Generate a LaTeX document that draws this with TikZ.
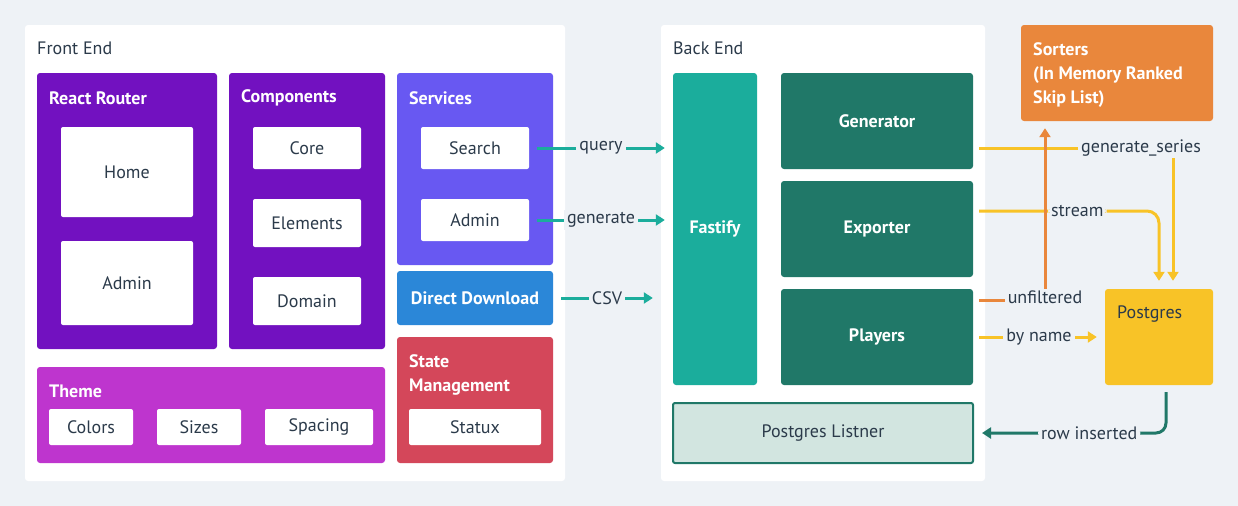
\documentclass[tikz,border=0pt]{standalone}
\usepackage{fontspec}
\setmainfont{PT Sans}
\usetikzlibrary{arrows.meta}

\definecolor{bgcol}{HTML}{EEF2F6}
\definecolor{ink}{HTML}{2B3A4A}
\definecolor{grape}{HTML}{7211C0}
\definecolor{violet}{HTML}{6858F2}
\definecolor{orchid}{HTML}{BE35CE}
\definecolor{sky}{HTML}{2B87D8}
\definecolor{rose}{HTML}{D4475A}
\definecolor{jade}{HTML}{1BAD9C}
\definecolor{forest}{HTML}{207868}
\definecolor{mint}{HTML}{D2E5E0}
\definecolor{pumpkin}{HTML}{E9873C}
\definecolor{amber}{HTML}{F8C327}

\tikzset{
  panel/.style={fill=white,rounded corners=3bp,inner sep=0pt},
  group/.style={rounded corners=3bp,inner sep=0pt,text=white,font=\fontsize{18bp}{24bp}\selectfont\bfseries},
  item/.style={fill=white,rounded corners=2bp,inner sep=0pt,text=ink},
  heading/.style={anchor=west,inner sep=0pt,text=ink},
  title/.style={anchor=west,inner sep=0pt,text=white,font=\fontsize{18bp}{24bp}\selectfont\bfseries},
  link/.style={line width=3bp,-{Triangle[length=9bp,width=11bp]}},
  tag/.style={fill=bgcol,text=ink,inner xsep=3bp,inner ysep=2bp}
}

\begin{document}
\begin{tikzpicture}[font=\fontsize{18bp}{24bp}\selectfont]
\fill [bgcol] (0bp,0bp) rectangle (1238bp,-506bp);

% panels
\node (FrontEnd) at (295bp,-253bp)[panel,minimum width=540bp,minimum height=456bp] {};
\node (BackEnd) at (823bp,-253bp)[panel,minimum width=324bp,minimum height=456bp] {};
\node (FrontEndTitle) at (37bp,-48bp)[heading] {Front End};
\node (BackEndTitle) at (673bp,-48bp)[heading] {Back End};

% front end
\node (Router) at (127bp,-211bp)[group,fill=grape,minimum width=180bp,minimum height=276bp] {};
\node (RouterTitle) at (49bp,-98bp)[title] {React Router};
\node (Home) at (127bp,-172bp)[item,minimum width=132bp,minimum height=90bp] {Home};
\node (AdminPage) at (127bp,-283bp)[item,minimum width=132bp,minimum height=84bp] {Admin};

\node (Components) at (307bp,-211bp)[group,fill=grape,minimum width=156bp,minimum height=276bp] {};
\node (ComponentsTitle) at (241bp,-98bp)[title] {Components};
\node (Core) at (307bp,-148bp)[item,minimum width=108bp,minimum height=42bp] {Core};
\node (Elements) at (307bp,-223bp)[item,minimum width=108bp,minimum height=48bp] {Elements};
\node (Domain) at (307bp,-301bp)[item,minimum width=108bp,minimum height=48bp] {Domain};

\node (Services) at (475bp,-169bp)[group,fill=violet,minimum width=156bp,minimum height=192bp] {};
\node (ServicesTitle) at (409bp,-98bp)[title] {Services};
\node (Search) at (475bp,-148bp)[item,minimum width=108bp,minimum height=42bp] {Search};
\node (AdminService) at (475bp,-220bp)[item,minimum width=108bp,minimum height=42bp] {Admin};

\node (Download) at (475bp,-298bp)[group,fill=sky,minimum width=156bp,minimum height=54bp] {Direct Download};

\node (State) at (475bp,-400bp)[group,fill=rose,minimum width=156bp,minimum height=126bp] {};
\node (StateTitle) at (409bp,-354bp)[title,anchor=north west,align=left] {State\\Management};
\node (Statux) at (475bp,-427bp)[item,minimum width=132bp,minimum height=36bp] {Statux};

\node (Theme) at (211bp,-415bp)[group,fill=orchid,minimum width=348bp,minimum height=96bp] {};
\node (ThemeTitle) at (49bp,-391bp)[title] {Theme};
\node (Colors) at (91bp,-427bp)[item,minimum width=84bp,minimum height=36bp] {Colors};
\node (Sizes) at (199bp,-427bp)[item,minimum width=84bp,minimum height=36bp] {Sizes};
\node (Spacing) at (319bp,-427bp)[item,minimum width=108bp,minimum height=36bp] {Spacing};

% back end
\node (Fastify) at (715bp,-229bp)[group,fill=jade,minimum width=84bp,minimum height=312bp] {Fastify};
\node (Generator) at (877bp,-121bp)[group,fill=forest,minimum width=192bp,minimum height=96bp] {Generator};
\node (Exporter) at (877bp,-229bp)[group,fill=forest,minimum width=192bp,minimum height=96bp] {Exporter};
\node (Players) at (877bp,-337bp)[group,fill=forest,minimum width=192bp,minimum height=96bp] {Players};
\node (Listner) at (823bp,-433bp)[item,fill=mint,draw=forest,line width=2bp,minimum width=300bp,minimum height=60bp] {Postgres Listner};

% outside
\node (Sorters) at (1117bp,-73bp)[group,fill=pumpkin,minimum width=192bp,minimum height=96bp] {};
\node (SortersTitle) at (1033bp,-42bp)[title,anchor=north west,align=left] {Sorters\\(In Memory Ranked\\Skip List)};
\node (Postgres) at (1159bp,-337bp)[group,fill=amber,minimum width=108bp,minimum height=96bp] {};
\node (PostgresTitle) at (1117bp,-314bp)[heading] {Postgres};

% connectors
\draw [link,jade,shorten <=8bp,shorten >=8bp] (Search) -- node[tag] {query} (Fastify.west |- Search);
\draw [link,jade,shorten <=8bp,shorten >=8bp] (AdminService) -- node[tag] {generate} (Fastify.west |- AdminService);
\draw [link,jade,shorten <=8bp,shorten >=20bp] (Download) -- node[tag,pos=0.45] {CSV} (Fastify.west |- Download);

\draw [link,amber,shorten <=6bp,shorten >=8bp] ([yshift=-27bp]Generator.east) -| node[tag,pos=0.42] {generate\_series} ([xshift=14bp]Postgres.north);
\draw [link,amber,rounded corners=12bp,shorten <=6bp,shorten >=8bp] ([yshift=18bp]Exporter.east) -| node[tag,pos=0.28] {stream} (Postgres.north);
\draw [link,amber,shorten <=6bp,shorten >=8bp] (Players) -- node[tag] {by name} (Postgres);
\draw [link,pumpkin,shorten <=6bp,shorten >=7bp] ([yshift=37bp]Players.east) -| node[tag,pos=0.5,yshift=3bp] {unfiltered} ([xshift=-72bp]Sorters.south);
\draw [link,forest,rounded corners=10bp,shorten <=7bp,shorten >=8bp] ([xshift=7bp]Postgres.south) |- node[tag,pos=0.7] {row inserted} (Listner.east);
\end{tikzpicture}
\end{document}
